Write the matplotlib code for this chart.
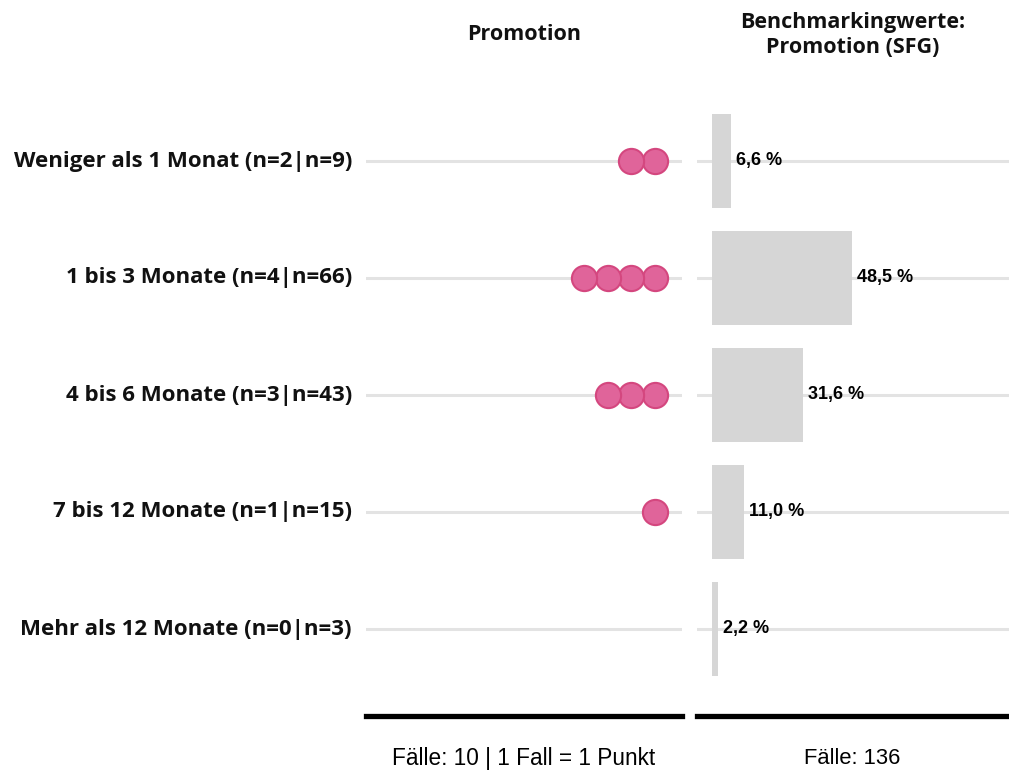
import matplotlib
matplotlib.use("Agg")
import matplotlib.pyplot as plt

# Data
categories = [
    "Weniger als 1 Monat (n=2|n=9)",
    "1 bis 3 Monate (n=4|n=66)",
    "4 bis 6 Monate (n=3|n=43)",
    "7 bis 12 Monate (n=1|n=15)",
    "Mehr als 12 Monate (n=0|n=3)",
]
counts = [2, 4, 3, 1, 0]
benchmark_pct = [6.6, 48.5, 31.6, 11.0, 2.2]
left_title = "Promotion"
right_title = "Benchmarkingwerte:\nPromotion (SFG)"
left_footer = "Fälle: 10 | 1 Fall = 1 Punkt"
right_footer = "Fälle: 136"

W, H = 1009, 772
fig = plt.figure(figsize=(W / 100, H / 100), dpi=100)

def px_axes(x0, x1, y_top, y_bot):
    return fig.add_axes([x0 / W, (H - y_bot) / H, (x1 - x0) / W, (y_bot - y_top) / H])

ax_l = px_axes(366, 682, 100, 716)
ax_r = px_axes(697, 1009, 100, 716)

rows = list(range(len(categories)))
ylim = (4.744, -0.521)

grid_col = "#e3e3e3"
for ax in (ax_l, ax_r):
    ax.set_ylim(*ylim)
    for s in ("top", "left", "right"):
        ax.spines[s].set_visible(False)
    ax.spines["bottom"].set_linewidth(3.8)
    ax.spines["bottom"].set_color("black")
    ax.set_xticks([])
    ax.set_yticks([])
    for r in rows:
        ax.axhline(r, color=grid_col, lw=2.2, zorder=0)

# Left panel: one dot per case, stacked from the right
ax_l.set_xlim(12.3, -1.15)
for r, n in zip(rows, counts):
    xs = list(range(n))
    ax_l.scatter(xs, [r] * n, s=330, facecolor="#e0649a", edgecolor="#d4477f",
                 linewidth=1.5, zorder=3, clip_on=False)

# Right panel: benchmark bars
ax_r.set_xlim(-5.2, 102.9)
ax_r.barh(rows, benchmark_pct, height=0.8, color="#d6d6d6", zorder=1)
for r, v in zip(rows, benchmark_pct):
    ax_r.text(v + 1.7, r, f"{v:.1f} %".replace(".", ","), ha="left", va="center",
              fontsize=13, fontweight="bold", family="Liberation Sans", zorder=4)

label_font = dict(fontweight="bold", family="Open Sans", color="#111111")

# Category labels
for r, lab in zip(rows, categories):
    y_px = 161 + 117 * r
    fig.text(352 / W, 1 - y_px / H, lab, ha="right", va="center",
             fontsize=16, **label_font)

# Titles
fig.text(524 / W, 1 - 35 / H, left_title, ha="center", va="center",
         fontsize=15.5, **label_font)
fig.text(853 / W, 1 - 35 / H, right_title, ha="center", va="center",
         fontsize=15.5, linespacing=1.3, **label_font)

# Footers
fig.text(524 / W, 1 - 759 / H, left_footer, ha="center", va="center",
         fontsize=16.3, family="Liberation Sans")
fig.text(852 / W, 1 - 759 / H, right_footer, ha="center", va="center",
         fontsize=15.8, family="Liberation Sans")

fig.savefig("out.png", dpi=100, facecolor="white")
